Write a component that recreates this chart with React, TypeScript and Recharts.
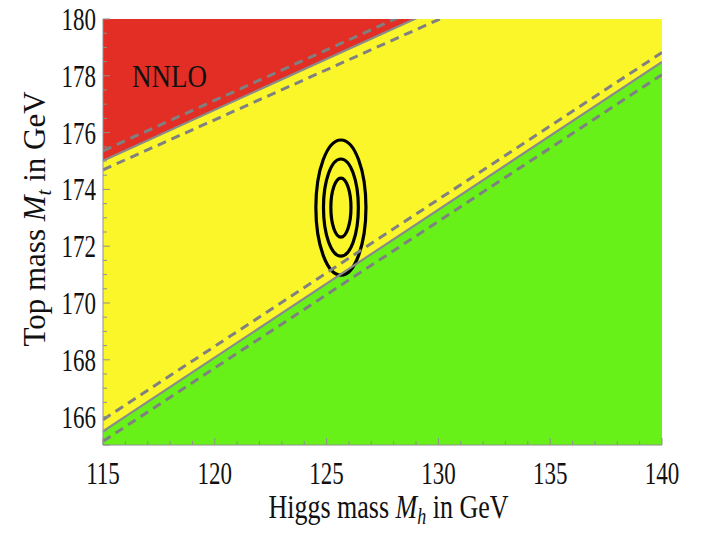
import React from 'react'
import {
  ComposedChart,
  Area,
  Line,
  XAxis,
  YAxis,
  ReferenceArea,
  ReferenceDot,
  Label,
} from 'recharts'

// boundary lines, sampled at the ends of the Higgs-mass range
const mhEnds = [115, 140]
const upperDashAbove = [175.36, 184.24]
const upperBoundary = [175.01, 183.96]
const upperDashBelow = [174.69, 183.5]
const lowerDashAbove = [165.89, 178.82]
const lowerBoundary = [165.48, 178.49]
const lowerDashBelow = [165.13, 178.04]

const mhDomain = [115, 140]
const mtDomain = [165, 180]

const xTicks = [
  115, 116, 117, 118, 119, 120, 121, 122, 123, 124, 125, 126, 127, 128, 129,
  130, 131, 132, 133, 134, 135, 136, 137, 138, 139, 140,
]
const xLabelTicks = [115, 120, 125, 130, 135, 140]
const yTicks = [
  165, 165.5, 166, 166.5, 167, 167.5, 168, 168.5, 169, 169.5, 170, 170.5, 171,
  171.5, 172, 172.5, 173, 173.5, 174, 174.5, 175, 175.5, 176, 176.5, 177,
  177.5, 178, 178.5, 179, 179.5, 180,
]
const yLabelTicks = [166, 168, 170, 172, 174, 176, 178, 180]

// measured point and its 1, 2, 3 sigma contours
const fitMh = 125.64
const fitMt = 173.36
const contourHalfMh = [0.45, 0.78, 1.12]
const contourHalfMt = [1.04, 1.71, 2.38]

const nnloMh = 116.3
const nnloMt = 177.6

const rows = mhEnds.map((mh, i) => ({
  mh,
  green: [mtDomain[0], lowerBoundary[i]],
  yellow: [lowerBoundary[i], mtDomain[1]],
  red: [upperBoundary[i], mtDomain[1]],
  upperDashAbove: upperDashAbove[i],
  upperBoundary: upperBoundary[i],
  upperDashBelow: upperDashBelow[i],
  lowerDashAbove: lowerDashAbove[i],
  lowerBoundary: lowerBoundary[i],
  lowerDashBelow: lowerDashBelow[i],
}))

const serif = '"Liberation Serif", "Times New Roman", serif'
const frame = '#8f8f8f'
const ink = '#111'

function BottomTick({ x, y, payload }: any) {
  const major = xLabelTicks.includes(payload.value)
  return (
    <g>
      <line x1={x} x2={x} y1={y} y2={y - (major ? 7 : 4)} stroke={frame} />
      {major && (
        <text
          transform={`translate(${x},${y + 39}) scale(1,1.33)`}
          textAnchor="middle"
          fontSize={23}
          fontFamily={serif}
          fill={ink}
        >
          {payload.value}
        </text>
      )}
    </g>
  )
}

function TopTick({ x, y, payload }: any) {
  const major = xLabelTicks.includes(payload.value)
  return <line x1={x} x2={x} y1={y} y2={y + (major ? 7 : 4)} stroke={frame} />
}

function LeftTick({ x, y, payload }: any) {
  const major = yLabelTicks.includes(payload.value) || payload.value === 165
  return (
    <g>
      <line x1={x} x2={x + (major ? 7 : 4)} y1={y} y2={y} stroke={frame} />
      {yLabelTicks.includes(payload.value) && (
        <text
          transform={`translate(${x - 7},${y + 11}) scale(1,1.33)`}
          textAnchor="end"
          fontSize={23}
          fontFamily={serif}
          fill={ink}
        >
          {payload.value}
        </text>
      )}
    </g>
  )
}

function RightTick({ x, y, payload }: any) {
  const major = yLabelTicks.includes(payload.value) || payload.value === 165
  return <line x1={x} x2={x - (major ? 7 : 4)} y1={y} y2={y} stroke={frame} />
}

const ellipseShape = ({ x, y, width, height }: any) => (
  <ellipse
    cx={x + width / 2}
    cy={y + height / 2}
    rx={width / 2}
    ry={height / 2}
    fill="none"
    stroke="#000"
    strokeWidth={3.2}
  />
)

export default function App() {
  return (
    <div style={{ position: 'absolute', left: 0, top: 0, background: '#fff' }}>
      <ComposedChart
        width={712}
        height={540}
        data={rows}
        margin={{ top: 19, right: 50, bottom: 0, left: 0 }}
      >
        <XAxis
          dataKey="mh"
          type="number"
          domain={mhDomain}
          allowDataOverflow
          ticks={xTicks}
          interval={0}
          tick={BottomTick}
          tickLine={false}
          tickSize={0}
          tickMargin={0}
          height={95}
          axisLine={{ stroke: frame }}
        >
          <Label
            content={({ viewBox }: any) => (
              <text
                transform={`translate(${viewBox.x + viewBox.width / 2 + 6},${viewBox.y + 73}) scale(1,1.27)`}
                textAnchor="middle"
                fontSize={26}
                fontFamily={serif}
                fill={ink}
              >
                Higgs mass <tspan fontStyle="italic">M</tspan>
                <tspan fontStyle="italic" fontSize={18} dy={5}>h</tspan>
                <tspan dy={-5}> in GeV</tspan>
              </text>
            )}
          />
        </XAxis>
        <XAxis
          xAxisId="top"
          orientation="top"
          type="number"
          domain={mhDomain}
          allowDataOverflow
          ticks={xTicks}
          interval={0}
          tick={TopTick}
          tickLine={false}
          tickSize={0}
          tickMargin={0}
          height={0}
          axisLine={{ stroke: frame }}
        />
        <YAxis
          type="number"
          domain={mtDomain}
          allowDataOverflow
          ticks={yTicks}
          interval={0}
          tick={LeftTick}
          tickLine={false}
          tickSize={0}
          tickMargin={0}
          width={103}
          axisLine={{ stroke: frame }}
        >
          <Label
            content={({ viewBox }: any) => (
              <text
                transform={`translate(45,${viewBox.y + 200}) rotate(-90)`}
                textAnchor="middle"
                fontSize={31}
                fontFamily={serif}
                fill={ink}
              >
                Top mass <tspan fontStyle="italic">M</tspan>
                <tspan fontStyle="italic" fontSize={21} dy={6}>t</tspan>
                <tspan dy={-6}> in GeV</tspan>
              </text>
            )}
          />
        </YAxis>
        <YAxis
          yAxisId="right"
          orientation="right"
          type="number"
          domain={mtDomain}
          allowDataOverflow
          ticks={yTicks}
          interval={0}
          tick={RightTick}
          tickLine={false}
          tickSize={0}
          tickMargin={0}
          width={0}
          axisLine={{ stroke: frame }}
        />

        <Area dataKey="green" type="linear" fill="#67f119" fillOpacity={1} stroke="none" isAnimationActive={false} />
        <Area dataKey="yellow" type="linear" fill="#faf62a" fillOpacity={1} stroke="none" isAnimationActive={false} />
        <Area dataKey="red" type="linear" fill="#e22e24" fillOpacity={1} stroke="none" isAnimationActive={false} />

        <Line dataKey="upperDashAbove" type="linear" stroke="#808080" strokeWidth={3} strokeDasharray="9 6" dot={false} activeDot={false} isAnimationActive={false} />
        <Line dataKey="upperBoundary" type="linear" stroke="#8a8a8a" strokeWidth={2.2} dot={false} activeDot={false} isAnimationActive={false} />
        <Line dataKey="upperDashBelow" type="linear" stroke="#808080" strokeWidth={3} strokeDasharray="9 6" dot={false} activeDot={false} isAnimationActive={false} />
        <Line dataKey="lowerDashAbove" type="linear" stroke="#808080" strokeWidth={3} strokeDasharray="9 6" dot={false} activeDot={false} isAnimationActive={false} />
        <Line dataKey="lowerBoundary" type="linear" stroke="#8a8a8a" strokeWidth={2.2} dot={false} activeDot={false} isAnimationActive={false} />
        <Line dataKey="lowerDashBelow" type="linear" stroke="#808080" strokeWidth={3} strokeDasharray="9 6" dot={false} activeDot={false} isAnimationActive={false} />

        {contourHalfMh.map((hw, i) => (
          <ReferenceArea
            key={i}
            x1={fitMh - hw}
            x2={fitMh + hw}
            y1={fitMt - contourHalfMt[i]}
            y2={fitMt + contourHalfMt[i]}
            shape={ellipseShape}
          />
        ))}

        <ReferenceDot
          x={nnloMh}
          y={nnloMt}
          r={0}
          shape={({ cx, cy }: any) => (
            <text
              transform={`translate(${cx},${cy}) scale(1,1.17)`}
              fontSize={27}
              fontFamily={serif}
              fill={ink}
            >
              NNLO
            </text>
          )}
        />
      </ComposedChart>
    </div>
  )
}
